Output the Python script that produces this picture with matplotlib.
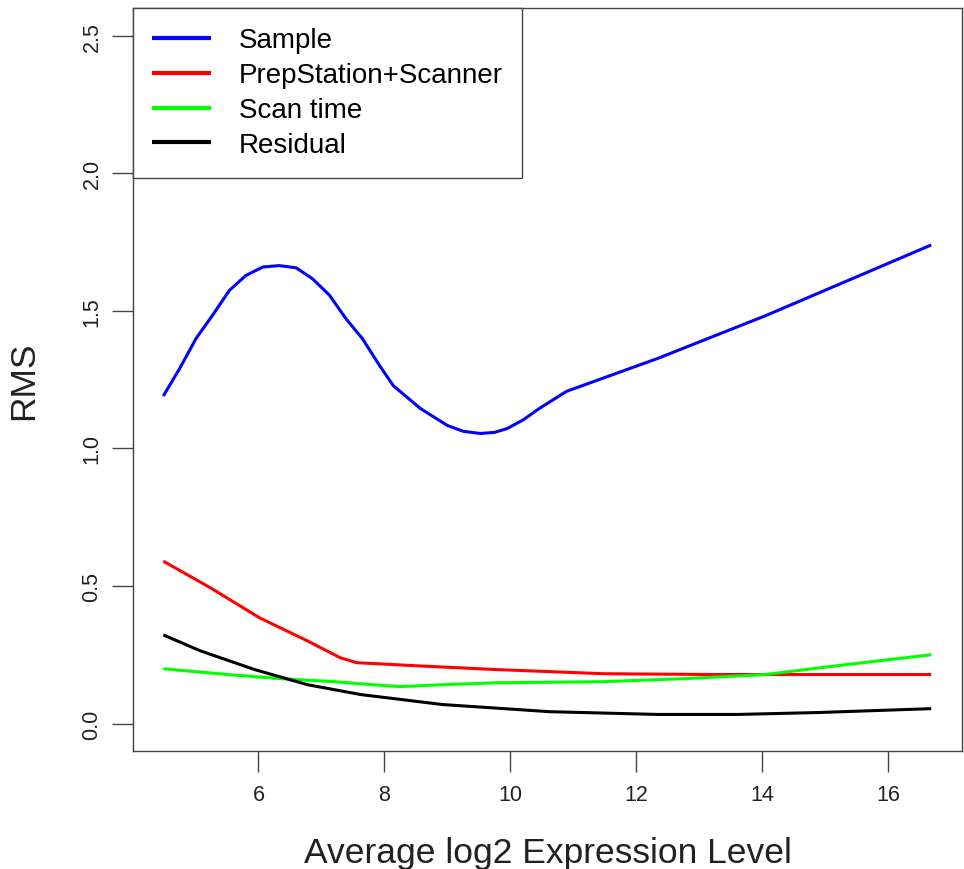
import matplotlib
matplotlib.use('Agg')
import matplotlib.pyplot as plt

plt.rcParams['font.family'] = ['Liberation Sans', 'DejaVu Sans']

# values
sample_x = [4.49, 4.75, 5.01, 5.27, 5.54, 5.80, 6.07, 6.33, 6.60, 6.86, 7.13, 7.39,
            7.65, 7.92, 8.14, 8.57, 9.00, 9.25, 9.52, 9.75, 9.95, 10.2, 10.46, 10.89,
            12.33, 14.05, 16.68]
sample_y = [1.19, 1.29, 1.399, 1.483, 1.574, 1.628, 1.659, 1.664, 1.656, 1.616, 1.556, 1.471,
            1.399, 1.302, 1.228, 1.145, 1.083, 1.062, 1.054, 1.058, 1.072, 1.103, 1.145, 1.207,
            1.326, 1.482, 1.739]

prep_x = [4.49, 5.24, 6.02, 6.78, 7.30, 7.56, 8.49, 9.78, 11.48, 13.19, 16.68]
prep_y = [0.59, 0.493, 0.384, 0.30, 0.239, 0.221, 0.21, 0.196, 0.181, 0.178, 0.178]

scan_x = [4.49, 5.51, 6.35, 7.21, 7.81, 8.24, 8.92, 9.78, 11.48, 12.76, 14.05, 15.33, 16.68]
scan_y = [0.199, 0.178, 0.163, 0.152, 0.141, 0.134, 0.141, 0.148, 0.152, 0.163, 0.178, 0.214, 0.25]

resid_x = [4.49, 5.08, 5.94, 6.78, 7.63, 8.92, 10.62, 12.33, 13.62, 14.90, 16.68]
resid_y = [0.322, 0.264, 0.196, 0.141, 0.105, 0.069, 0.043, 0.033, 0.033, 0.04, 0.054]

labels = ['Sample', 'PrepStation+Scanner', 'Scan time', 'Residual']
colors = ['#0000FF', '#FF0000', '#00FF00', '#000000']

x_ticks = [6, 8, 10, 12, 14, 16]
y_ticks = [0.0, 0.5, 1.0, 1.5, 2.0, 2.5]

fig = plt.figure(figsize=(9.64, 8.7), dpi=100)
ax = fig.add_axes([0.138, 0.1356, 0.860, 0.854])

series = [(sample_x, sample_y), (prep_x, prep_y), (scan_x, scan_y), (resid_x, resid_y)]
for (xs, ys), lab, col in zip(series, labels, colors):
    ax.plot(xs, ys, color=col, lw=2.2, label=lab, solid_capstyle='butt')

ax.set_xlim(4.01, 17.17)
ax.set_ylim(-0.1, 2.6)
ax.set_xticks(x_ticks)
ax.set_xticklabels([str(t) for t in x_ticks])
ax.set_yticks(y_ticks)
ax.set_yticklabels(['%.1f' % t for t in y_ticks], rotation=90, va='center')
ax.tick_params(axis='both', length=15, width=1, color='#444444', labelsize=15.5,
               labelcolor='#222222')
ax.tick_params(axis='x', pad=9)
ax.tick_params(axis='y', pad=7)
for s in ax.spines.values():
    s.set_color('#444444')
    s.set_linewidth(1)

ax.set_xlabel('Average log2 Expression Level', fontsize=25.5, color='#222222', labelpad=22)
ax.set_ylabel('RMS', fontsize=25.5, color='#222222', labelpad=30)

leg = ax.legend(loc='upper left', borderaxespad=0, fancybox=False, framealpha=1,
                edgecolor='#444444', fontsize=20, handlelength=2.1, handletextpad=1.0,
                labelspacing=0.32, borderpad=0.7)
leg.get_frame().set_linewidth(1)
for line in leg.get_lines():
    line.set_linewidth(3)

fig.savefig('out.png', dpi=100, facecolor='white')
